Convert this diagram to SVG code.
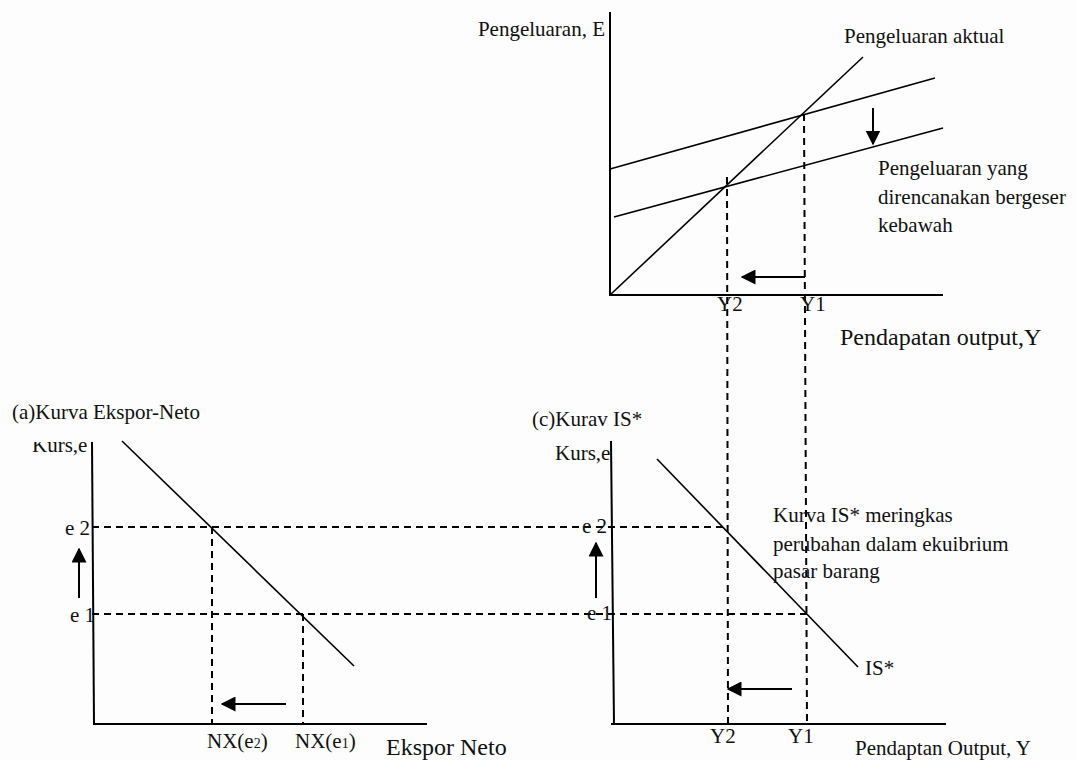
<svg xmlns="http://www.w3.org/2000/svg" width="1077" height="760" viewBox="0 0 1077 760">
<style>
text{font-family:"Liberation Serif","Times New Roman",serif;font-size:21px;fill:#111}
.big{font-size:24px}
.axis{stroke:#000;stroke-width:2;fill:none}
.curve{stroke:#000;stroke-width:1.6;fill:none}
.dash{stroke:#000;stroke-width:2;stroke-dasharray:7 5;fill:none}
.arr{stroke:#000;stroke-width:2;fill:none;marker-end:url(#head)}
</style>
<defs>
<marker id="head" viewBox="0 0 10 10" refX="9" refY="5" markerWidth="7.5" markerHeight="7.5" orient="auto" markerUnits="strokeWidth">
<path d="M0,0 L10,5 L0,10 Z" fill="#000"/>
</marker>
<clipPath id="cutTop"><rect x="0" y="442" width="120" height="40"/></clipPath>
</defs>
<rect width="1077" height="760" fill="#fcfdfc"/>

<g id="connectors">
<line class="dash" x1="92" y1="527" x2="727" y2="527"/>
<line class="dash" x1="92" y1="614" x2="807" y2="614"/>
<line class="dash" x1="212" y1="527" x2="212" y2="723"/>
<line class="dash" x1="303" y1="614" x2="303" y2="723"/>
<line class="dash" x1="727" y1="177" x2="728" y2="723"/>
<line class="dash" x1="804" y1="114" x2="807" y2="723"/>
<line class="arr" x1="873" y1="108" x2="873" y2="144"/>
<line class="arr" x1="805" y1="277" x2="742" y2="277"/>
<line class="arr" x1="286" y1="704" x2="222" y2="704"/>
<line class="arr" x1="79" y1="598" x2="79" y2="549"/>
<line class="arr" x1="596" y1="598" x2="596" y2="543"/>
<line class="arr" x1="792" y1="689" x2="728" y2="689"/>
</g>

<g id="panel-top">
<line class="axis" x1="610" y1="12" x2="610" y2="295"/>
<line class="axis" x1="609" y1="295" x2="943" y2="295"/>
<line class="curve" x1="610" y1="295" x2="863" y2="57"/>
<line class="curve" x1="610" y1="169" x2="935" y2="78"/>
<line class="curve" x1="614" y1="217" x2="943" y2="128"/>
<text x="605" y="36" text-anchor="end">Pengeluaran, E</text>
<text x="844" y="43">Pengeluaran aktual</text>
<text x="878" y="175">Pengeluaran yang</text>
<text x="878" y="204">direncanakan bergeser</text>
<text x="878" y="232">kebawah</text>
<text x="717" y="311">Y2</text>
<text x="800" y="311">Y1</text>
<text class="big" x="840" y="345">Pendapatan output,Y</text>
</g>

<g id="panel-a">
<line class="axis" x1="92" y1="442" x2="94" y2="724"/>
<line class="axis" x1="93" y1="724" x2="427" y2="724"/>
<line class="curve" x1="122" y1="441" x2="354" y2="666"/>
<text x="12" y="419">(a)Kurva Ekspor-Neto</text>
<text x="32" y="452" clip-path="url(#cutTop)">Kurs,e</text>
<text x="65" y="535">e 2</text>
<text x="70" y="622">e 1</text>
<text x="207" y="748">NX(e<tspan font-size="14">2</tspan>)</text>
<text x="295" y="748">NX(e<tspan font-size="14">1</tspan>)</text>
<text class="big" x="386" y="755">Ekspor Neto</text>
</g>

<g id="panel-c">
<line class="axis" x1="611" y1="441" x2="614" y2="724"/>
<line class="axis" x1="611" y1="724" x2="946" y2="724"/>
<line class="curve" x1="657" y1="459" x2="858" y2="667"/>
<text x="532" y="426">(c)Kurav IS*</text>
<text x="555" y="460">Kurs,e</text>
<text x="582" y="533">e 2</text>
<text x="587" y="620">e 1</text>
<text x="773" y="522">Kurva IS* meringkas</text>
<text x="773" y="551">perubahan dalam ekuibrium</text>
<text x="773" y="578">pasar barang</text>
<text x="865" y="675">IS*</text>
<text x="710" y="743">Y2</text>
<text x="788" y="743">Y1</text>
<text x="855" y="755">Pendaptan Output, Y</text>
</g>
</svg>
